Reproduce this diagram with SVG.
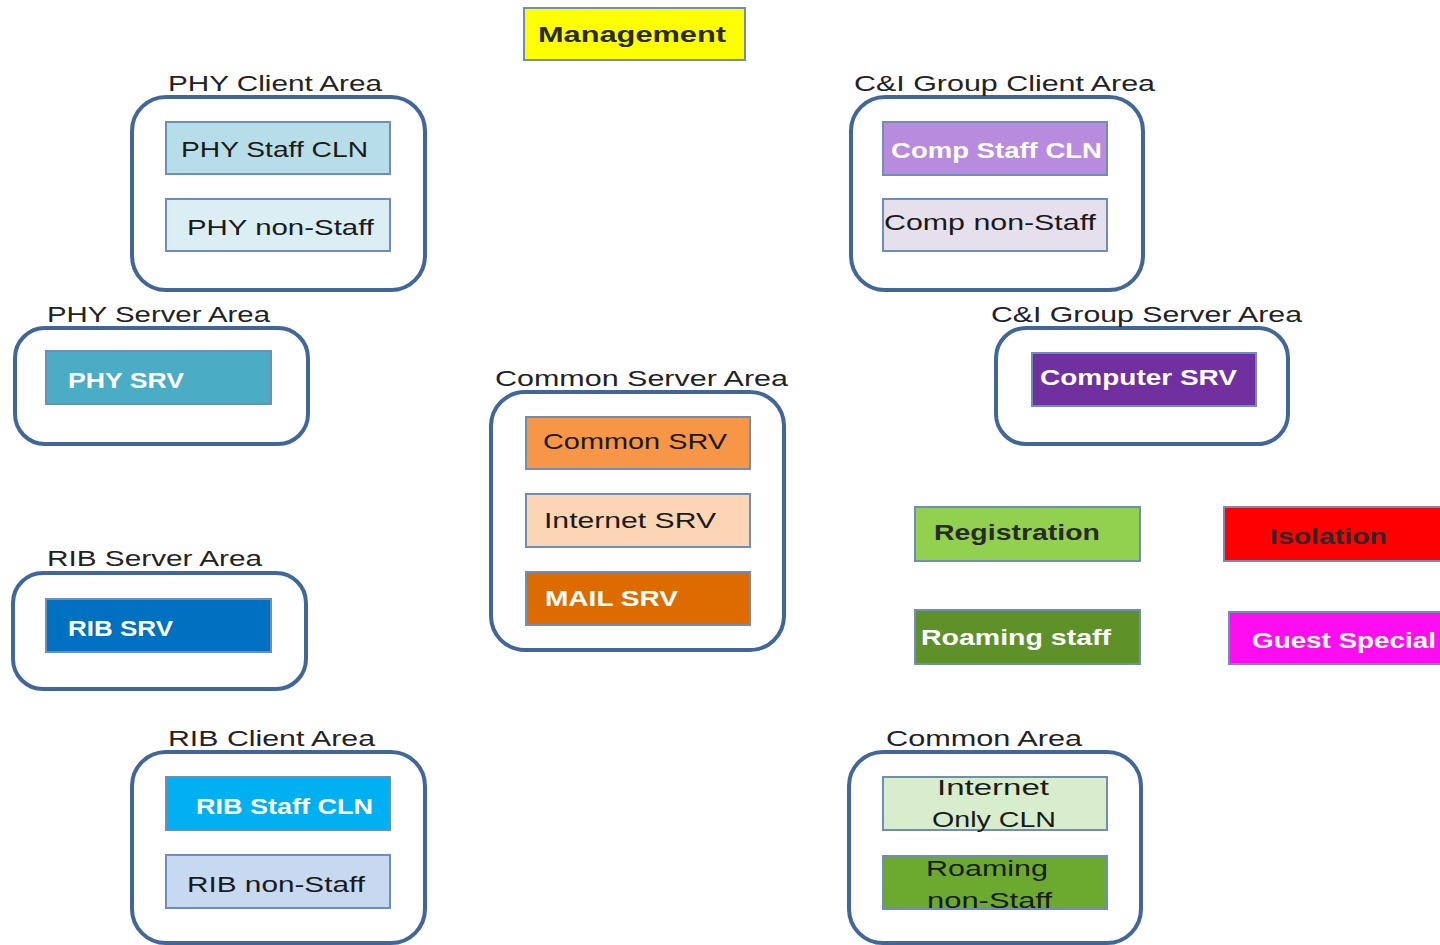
<svg xmlns="http://www.w3.org/2000/svg" width="1440" height="945" viewBox="0 0 1440 945">
<style>
.area{fill:#fff;stroke:#40669A;stroke-width:4}
.node{stroke:#6E8DB8;stroke-width:2}
.lbl{font-family:"Liberation Sans",Arial,sans-serif;font-size:22px;fill:#222}
.t{font-family:"Liberation Sans",Arial,sans-serif;font-size:22px;fill:#1a1a1a}
.w{font-family:"Liberation Sans",Arial,sans-serif;font-size:22px;font-weight:bold;fill:#fff}
.b{font-family:"Liberation Sans",Arial,sans-serif;font-size:22px;font-weight:bold;fill:#2a2a2a}
</style>
<rect width="1440" height="945" fill="#fff"/>

<g id="management">
<rect class="node" x="524" y="8" width="221" height="52" fill="#FFFF00"/>
<text class="b" x="538" y="42" textLength="188" lengthAdjust="spacingAndGlyphs">Management</text>
</g>

<g id="phy-client-area">
<rect class="area" x="132" y="97" width="293" height="193" rx="34"/>
<text class="lbl" x="168" y="91" textLength="214" lengthAdjust="spacingAndGlyphs">PHY Client Area</text>
<g id="phy-staff-cln">
<rect class="node" x="166" y="122" width="224" height="52" fill="#B7DEE8"/>
<text class="t" x="181" y="157" textLength="187" lengthAdjust="spacingAndGlyphs">PHY Staff CLN</text>
</g>
<g id="phy-non-staff">
<rect class="node" x="166" y="199" width="224" height="52" fill="#DAEEF3"/>
<text class="t" x="187" y="235" textLength="187" lengthAdjust="spacingAndGlyphs">PHY non-Staff</text>
</g>
</g>

<g id="ci-client-area">
<rect class="area" x="851" y="97" width="292" height="193" rx="34"/>
<text class="lbl" x="854" y="91" textLength="301" lengthAdjust="spacingAndGlyphs">C&amp;I Group Client Area</text>
<g id="comp-staff-cln">
<rect class="node" x="883" y="122" width="224" height="53" fill="#B98BDE"/>
<text class="w" x="891" y="158" textLength="211" lengthAdjust="spacingAndGlyphs">Comp Staff CLN</text>
</g>
<g id="comp-non-staff">
<rect class="node" x="883" y="199" width="224" height="52" fill="#E6E0EC"/>
<text class="t" x="884" y="230" textLength="212" lengthAdjust="spacingAndGlyphs">Comp non-Staff</text>
</g>
</g>

<g id="phy-server-area">
<rect class="area" x="15" y="328" width="293" height="116" rx="30"/>
<text class="lbl" x="47" y="322" textLength="223" lengthAdjust="spacingAndGlyphs">PHY Server Area</text>
<g id="phy-srv">
<rect class="node" x="46" y="351" width="225" height="53" fill="#4BACC6"/>
<text class="w" x="68" y="388" textLength="116" lengthAdjust="spacingAndGlyphs">PHY SRV</text>
</g>
</g>

<g id="ci-server-area">
<rect class="area" x="996" y="328" width="292" height="116" rx="30"/>
<text class="lbl" x="991" y="322" textLength="311" lengthAdjust="spacingAndGlyphs">C&amp;I Group Server Area</text>
<g id="computer-srv">
<rect class="node" x="1032" y="353" width="224" height="53" fill="#7030A0"/>
<text class="w" x="1040" y="385" textLength="197" lengthAdjust="spacingAndGlyphs">Computer SRV</text>
</g>
</g>

<g id="common-server-area">
<rect class="area" x="491" y="392" width="293" height="258" rx="34"/>
<text class="lbl" x="495" y="386" textLength="293" lengthAdjust="spacingAndGlyphs">Common Server Area</text>
<g id="common-srv">
<rect class="node" x="526" y="417" width="224" height="52" fill="#F79646"/>
<text class="t" x="543" y="449" textLength="184" lengthAdjust="spacingAndGlyphs">Common SRV</text>
</g>
<g id="internet-srv">
<rect class="node" x="526" y="494" width="224" height="53" fill="#FCD5B4"/>
<text class="t" x="544" y="528" textLength="172" lengthAdjust="spacingAndGlyphs">Internet SRV</text>
</g>
<g id="mail-srv">
<rect class="node" x="526" y="572" width="224" height="53" fill="#DE6B00"/>
<text class="w" x="545" y="606" textLength="133" lengthAdjust="spacingAndGlyphs">MAIL SRV</text>
</g>
</g>

<g id="registration">
<rect class="node" x="915" y="507" width="225" height="54" fill="#92D050"/>
<text class="b" x="934" y="540" textLength="166" lengthAdjust="spacingAndGlyphs">Registration</text>
</g>
<g id="isolation">
<rect class="node" x="1224" y="507" width="220" height="54" fill="#FF0000"/>
<text class="b" x="1270" y="544" textLength="117" lengthAdjust="spacingAndGlyphs">Isolation</text>
</g>
<g id="roaming-staff">
<rect class="node" x="915" y="610" width="225" height="54" fill="#5E9229"/>
<text class="w" x="921" y="645" textLength="190" lengthAdjust="spacingAndGlyphs">Roaming staff</text>
</g>
<g id="guest-special">
<rect class="node" x="1229" y="612" width="215" height="52" fill="#FF0CF0"/>
<text class="w" x="1252" y="648" textLength="184" lengthAdjust="spacingAndGlyphs">Guest Special</text>
</g>

<g id="rib-server-area">
<rect class="area" x="13" y="573" width="293" height="116" rx="30"/>
<text class="lbl" x="47" y="566" textLength="215" lengthAdjust="spacingAndGlyphs">RIB Server Area</text>
<g id="rib-srv">
<rect class="node" x="46" y="599" width="225" height="53" fill="#0070C0"/>
<text class="w" x="68" y="636" textLength="105" lengthAdjust="spacingAndGlyphs">RIB SRV</text>
</g>
</g>

<g id="rib-client-area">
<rect class="area" x="132" y="752" width="293" height="191" rx="34"/>
<text class="lbl" x="168" y="746" textLength="207" lengthAdjust="spacingAndGlyphs">RIB Client Area</text>
<g id="rib-staff-cln">
<rect class="node" x="166" y="777" width="224" height="53" fill="#00B0F0"/>
<text class="w" x="196" y="814" textLength="177" lengthAdjust="spacingAndGlyphs">RIB Staff CLN</text>
</g>
<g id="rib-non-staff">
<rect class="node" x="166" y="855" width="224" height="53" fill="#C6D9F1"/>
<text class="t" x="187" y="892" textLength="178" lengthAdjust="spacingAndGlyphs">RIB non-Staff</text>
</g>
</g>

<g id="common-area">
<rect class="area" x="849" y="752" width="292" height="191" rx="34"/>
<text class="lbl" x="886" y="746" textLength="196" lengthAdjust="spacingAndGlyphs">Common Area</text>
<g id="internet-only-cln">
<rect class="node" x="883" y="777" width="224" height="53" fill="#D8EDCB"/>
<text class="t" x="937" y="795" textLength="112" lengthAdjust="spacingAndGlyphs">Internet</text>
<text class="t" x="932" y="827" textLength="124" lengthAdjust="spacingAndGlyphs">Only CLN</text>
</g>
<g id="roaming-non-staff">
<rect class="node" x="883" y="856" width="224" height="53" fill="#6BAA2E"/>
<text class="t" x="926" y="876" textLength="122" lengthAdjust="spacingAndGlyphs">Roaming</text>
<text class="t" x="927" y="908" textLength="125" lengthAdjust="spacingAndGlyphs">non-Staff</text>
</g>
</g>

<g id="connectors"></g>
</svg>
